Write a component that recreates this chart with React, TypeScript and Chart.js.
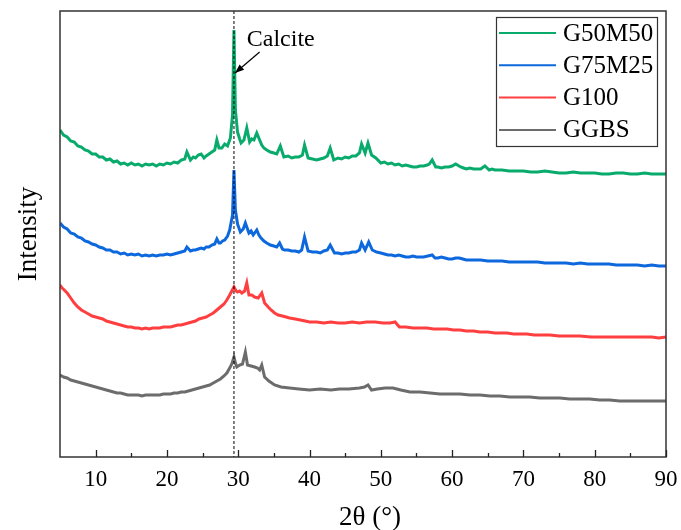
import React, { useEffect, useRef } from "react";
import { Chart, registerables } from "chart.js";

Chart.register(...registerables);

const seriesLabels = ["G50M50", "G75M25", "G100", "GGBS"];
const seriesColors = ["#08ab6c", "#0c68dc", "#ff3f3f", "#6c6c6c"];

const xTickLabels = [10, 20, 30, 40, 50, 60, 70, 80, 90];
const calcitePosition = 29.4;

const g50m50: [number, number][] = [
  [5, 327], [5.5, 322], [6, 320], [6.5, 316], [7, 315], [7.5, 311], [8, 310], [8.5, 307], [9, 306], [9.5, 303], [10, 303],
  [10.5, 300], [11, 300], [11.5, 297], [12, 298], [12.5, 295], [13, 296], [13.5, 293], [14, 294], [14.5, 292], [15, 294],
  [15.5, 292], [16, 293], [16.5, 291], [17, 293], [17.5, 292], [18, 293], [18.5, 291], [19, 293], [19.5, 292], [20, 294],
  [20.5, 293], [21, 295], [21.5, 294], [22, 297], [22.5, 298], [22.8, 305], [23.3, 297], [23.7, 300], [24, 299], [24.4, 302],
  [24.8, 303], [25.2, 299], [25.5, 301], [25.9, 303], [26.3, 305], [26.7, 307], [27, 317], [27.3, 309], [27.7, 309],
  [28.1, 313], [28.5, 311], [28.9, 319], [29.2, 342], [29.4, 427], [29.6, 347], [29.9, 325], [30.2, 318], [30.4, 314],
  [30.8, 317], [31.2, 329], [31.6, 315], [31.9, 318], [32.2, 317], [32.6, 324], [33, 317], [33.3, 312], [33.6, 309],
  [34, 307], [34.5, 305], [35, 304], [35.4, 303], [35.9, 311], [36.4, 300], [37, 301], [37.5, 299], [38, 300], [38.5, 300],
  [39, 302], [39.3, 312], [39.8, 299], [40.4, 298], [41, 297], [41.5, 298], [42, 299], [42.5, 301], [42.9, 309], [43.4, 297],
  [44, 299], [44.5, 298], [45, 300], [45.5, 299], [46, 301], [46.5, 301], [47, 304], [47.3, 313], [47.8, 304], [48.2, 314],
  [48.7, 302], [49.3, 299], [50, 294], [50.5, 295], [51, 293], [51.5, 294], [52, 292], [52.5, 293], [53, 291], [53.5, 292],
  [54, 291], [54.5, 290], [55, 290], [55.5, 291], [56, 291], [56.5, 292], [56.8, 293], [57.2, 297], [57.7, 290], [58, 290],
  [58.5, 289], [59, 290], [59.5, 290], [60, 291], [60.5, 293], [61.2, 290], [61.6, 289], [62, 288], [62.5, 289], [63, 288],
  [63.5, 288], [64, 288], [64.6, 291], [65.2, 287], [65.6, 288], [66, 287], [67, 287], [68, 286], [69, 286], [70, 286],
  [71, 285], [72, 285], [73, 286], [74, 285], [75, 284], [76, 284], [77, 285], [78, 284], [79, 284], [80, 284], [81, 283],
  [82, 283], [83, 284], [84, 284], [85, 283], [86, 283], [87, 284], [88, 283], [89, 283], [90, 283],
];

const g75m25: [number, number][] = [
  [5, 234], [5.5, 230], [6, 228], [6.5, 224], [7, 223], [7.5, 220], [8, 219], [8.5, 216], [9, 215], [9.5, 213], [10, 212],
  [10.5, 210], [11, 209], [11.5, 207], [12, 207], [12.5, 205], [13, 205], [13.5, 203], [14, 204], [14.5, 202], [15, 203],
  [15.5, 202], [16, 203], [16.5, 201], [17, 202], [17.5, 201], [18, 202], [18.5, 201], [19, 202], [19.5, 202], [20, 203],
  [20.5, 202], [21, 203], [21.5, 204], [22, 205], [22.5, 206], [22.8, 210], [23.3, 206], [23.7, 207], [24, 207],
  [24.4, 208], [24.8, 209], [25.2, 208], [25.5, 210], [25.9, 210], [26.3, 212], [26.7, 213], [27, 218], [27.3, 214],
  [27.5, 214], [27.8, 216], [28.1, 217], [28.5, 221], [28.8, 227], [29.2, 242], [29.4, 287], [29.6, 247], [29.9, 233],
  [30.3, 225], [30.7, 228], [31, 234], [31.5, 224], [31.8, 226], [32.1, 222], [32.6, 227], [32.9, 222], [33.2, 219],
  [33.6, 216], [34, 214], [34.5, 212], [35, 211], [35.4, 210], [35.8, 214], [36.2, 208], [36.5, 207], [37, 207],
  [37.5, 206], [38, 206], [38.5, 205], [38.9, 207], [39.3, 220], [39.8, 206], [40.4, 205], [41, 205], [41.5, 204],
  [42, 206], [42.5, 207], [42.9, 212], [43.5, 204], [44, 204], [44.5, 203], [45, 204], [45.5, 204], [46, 205], [46.5, 205],
  [47, 207], [47.3, 214], [47.8, 207], [48.3, 215], [48.8, 207], [49.4, 205], [50, 204], [50.5, 203], [51, 202], [51.5, 202],
  [52, 201], [52.5, 202], [53, 201], [53.5, 200], [54, 200], [54.5, 201], [55, 200], [55.5, 200], [56, 200], [56.6, 201],
  [57.2, 202], [57.6, 199], [58, 199], [58.5, 200], [59, 199], [59.5, 198], [60, 198], [60.5, 199], [61, 199], [61.5, 198],
  [62, 197], [63, 197], [64, 197], [65, 196], [66, 196], [67, 196], [68, 195], [69, 195], [70, 195], [71, 195], [72, 195],
  [73, 194], [74, 194], [75, 194], [76, 194], [77, 193], [78, 194], [79, 193], [80, 193], [81, 193], [82, 193], [83, 192],
  [84, 192], [85, 192], [86, 192], [87, 191], [88, 192], [89, 191], [90, 191],
];

const g100: [number, number][] = [
  [5, 172], [5.3, 169], [5.6, 167], [6, 164], [6.5, 159], [7, 154], [7.5, 150], [8, 147], [8.5, 145], [9, 143], [9.5, 141],
  [10, 140], [10.5, 139], [11, 138], [11.5, 136], [12, 135], [12.5, 134], [13, 133], [13.5, 132], [14, 131], [14.5, 130],
  [15, 130], [15.5, 129], [16, 129], [16.5, 128], [17, 129], [17.5, 128], [18, 129], [18.5, 129], [19, 129], [19.5, 130],
  [20, 130], [20.5, 130], [21, 131], [21.5, 132], [22, 132], [22.5, 133], [23, 134], [23.5, 135], [24, 136], [24.5, 138],
  [25, 139], [25.5, 140], [26, 142], [26.5, 144], [27, 147], [27.5, 150], [28, 153], [28.4, 157], [28.8, 162], [29.1, 166],
  [29.4, 170], [29.7, 166], [29.9, 165], [30.2, 166], [30.5, 164], [30.9, 166], [31.2, 174], [31.5, 162], [31.9, 162],
  [32.3, 160], [32.8, 159], [33.3, 164], [33.7, 154], [34.2, 150], [34.6, 147], [35.1, 144], [35.6, 142], [36.2, 141],
  [36.7, 140], [37.2, 139], [38, 138], [38.7, 137], [39.4, 136], [40, 135], [41, 135], [42, 134], [43, 135], [44, 134],
  [45, 134], [46, 135], [47, 134], [48, 135], [49.2, 135], [50.3, 134], [51.3, 134], [52, 135], [52.6, 130], [53.5, 130],
  [54.5, 129], [55.5, 129], [56.5, 129], [57.4, 128], [58.3, 128], [59.3, 128], [60.2, 127], [61.1, 127], [62, 126],
  [63, 126], [63.9, 125], [65, 125], [66, 124], [66.7, 124], [67.7, 124], [68.6, 123], [69.5, 123], [70.5, 123],
  [71.5, 122], [72.6, 122], [73.7, 122], [75, 121], [76.5, 121], [77.9, 121], [79.5, 120], [81, 120], [82.2, 120],
  [83.5, 120], [85, 120], [86.5, 120], [88, 120], [89, 119], [90, 120],
];

const ggbs: [number, number][] = [
  [5, 82], [5.5, 80], [6, 79], [6.5, 77], [7, 76], [7.5, 75], [8, 74], [8.5, 73], [9, 72], [9.5, 71], [10, 70], [10.5, 69],
  [11, 68], [11.5, 67], [12, 66], [12.5, 65], [13, 64], [13.5, 64], [14, 63], [14.5, 62], [15, 62], [15.5, 62], [16, 62],
  [16.5, 61], [17, 62], [17.5, 62], [18, 62], [18.5, 62], [19, 62], [19.5, 63], [20, 63], [20.5, 63], [21, 64], [21.5, 64],
  [22, 65], [22.5, 65], [23, 66], [23.5, 67], [24, 68], [24.5, 69], [25, 70], [25.5, 71], [26, 72], [26.5, 74], [27, 76],
  [27.5, 78], [28, 81], [28.4, 84], [28.8, 89], [29.1, 93], [29.4, 100], [29.6, 94], [29.8, 90], [30.2, 92], [30.6, 93],
  [31, 105], [31.3, 92], [31.8, 91], [32.3, 90], [32.7, 89], [33, 87], [33.3, 92], [33.7, 80], [34.3, 76], [35.1, 72],
  [36, 70], [37.2, 69], [38.5, 68], [40, 67], [41.5, 68], [43, 67], [44.2, 68], [45.5, 68], [47, 69], [47.7, 70], [48.2, 72],
  [48.7, 67], [49.5, 68], [50.6, 69], [51.7, 69], [52.8, 67], [54.1, 65], [55.5, 65], [56.9, 64], [58.3, 63], [59.7, 63],
  [61.1, 63], [62.5, 62], [63.9, 62], [65.3, 61], [66.7, 61], [68.1, 60], [69.5, 60], [70.9, 60], [72.3, 59], [73.7, 59],
  [75.1, 59], [76.5, 58], [77.9, 58], [79.3, 58], [80.7, 57], [82.1, 57], [83.5, 56], [84.9, 56], [86.3, 56], [87.7, 56],
  [89, 56], [90, 56],
];

const seriesData = [g50m50, g75m25, g100, ggbs];

const SERIF = '"Liberation Serif", "Times New Roman", serif';

const decorPlugin = {
  id: "decor",
  afterDraw(chart: any) {
    const { ctx, chartArea } = chart;
    const xs = chart.scales.x;
    const ys = chart.scales.y;
    const { left, right, top, bottom } = chartArea;
    ctx.save();

    // dashed calcite line
    const cx = xs.getPixelForValue(calcitePosition);
    ctx.strokeStyle = "#000";
    ctx.lineWidth = 1;
    ctx.setLineDash([3, 2]);
    ctx.beginPath();
    ctx.moveTo(cx, top);
    ctx.lineTo(cx, bottom);
    ctx.stroke();
    ctx.setLineDash([]);

    // frame
    ctx.strokeStyle = "#333";
    ctx.lineWidth = 1.5;
    ctx.strokeRect(left, top, right - left, bottom - top);

    // inward ticks
    ctx.lineWidth = 1.3;
    ctx.strokeStyle = "#222";
    for (let v = 10; v <= 90; v += 5) {
      const px = Math.round(xs.getPixelForValue(v)) + 0.5;
      const len = v % 10 === 0 ? 7 : 4;
      ctx.beginPath();
      ctx.moveTo(px, bottom);
      ctx.lineTo(px, bottom - len);
      ctx.stroke();
    }

    // Calcite annotation
    ctx.fillStyle = "#000";
    ctx.font = `24px ${SERIF}`;
    ctx.textAlign = "left";
    ctx.textBaseline = "alphabetic";
    ctx.fillText("Calcite", xs.getPixelForValue(31.2), ys.getPixelForValue(411));
    const ax0 = xs.getPixelForValue(33.0);
    const ay0 = ys.getPixelForValue(405);
    const ax1 = xs.getPixelForValue(29.55);
    const ay1 = ys.getPixelForValue(384);
    ctx.strokeStyle = "#000";
    ctx.lineWidth = 1.2;
    ctx.beginPath();
    ctx.moveTo(ax0, ay0);
    ctx.lineTo(ax1, ay1);
    ctx.stroke();
    const ang = Math.atan2(ay1 - ay0, ax1 - ax0);
    const hl = 9;
    const hw = 3.5;
    ctx.beginPath();
    ctx.moveTo(ax1, ay1);
    ctx.lineTo(
      ax1 - hl * Math.cos(ang) + hw * Math.sin(ang),
      ay1 - hl * Math.sin(ang) - hw * Math.cos(ang)
    );
    ctx.lineTo(
      ax1 - hl * Math.cos(ang) - hw * Math.sin(ang),
      ay1 - hl * Math.sin(ang) + hw * Math.cos(ang)
    );
    ctx.closePath();
    ctx.fill();

    // legend
    const bx = right - 170;
    const by = top + 6;
    const bw = 161;
    const bh = 129;
    ctx.strokeStyle = "#333";
    ctx.lineWidth = 1.2;
    ctx.strokeRect(bx + 0.5, by + 0.5, bw, bh);
    ctx.font = `25px ${SERIF}`;
    ctx.textBaseline = "middle";
    chart.data.datasets.forEach((ds: any, i: number) => {
      const yy = by + 16 + i * 32.3;
      ctx.strokeStyle = ds.borderColor;
      ctx.lineWidth = 2;
      ctx.beginPath();
      ctx.moveTo(bx + 3, yy);
      ctx.lineTo(bx + 60, yy);
      ctx.stroke();
      ctx.fillStyle = "#000";
      ctx.fillText(ds.label, bx + 67, yy + 1);
    });

    // axis titles
    ctx.fillStyle = "#000";
    ctx.font = `27px ${SERIF}`;
    ctx.textAlign = "center";
    ctx.textBaseline = "alphabetic";
    ctx.fillText("2θ (°)", (left + right) / 2 + 7, 525);
    ctx.translate(36, (top + bottom) / 2);
    ctx.rotate(-Math.PI / 2);
    ctx.fillText("Intensity", 0, 0);
    ctx.restore();
  },
};

export default function App() {
  const ref = useRef<HTMLCanvasElement>(null);
  useEffect(() => {
    if (!ref.current) return;
    const chart = new Chart(ref.current, {
      type: "line",
      data: {
        datasets: seriesLabels.map((label, i) => ({
          label,
          data: seriesData[i].map(([x, y]) => ({ x, y })),
          borderColor: seriesColors[i],
          backgroundColor: seriesColors[i],
          borderWidth: 3,
          pointRadius: 0,
          tension: 0,
        })),
      },
      options: {
        animation: false,
        responsive: true,
        maintainAspectRatio: false,
        layout: { padding: { top: 11, right: 15, left: 0, bottom: 0 } },
        plugins: { legend: { display: false }, tooltip: { enabled: false } },
        scales: {
          x: {
            type: "linear",
            min: 5,
            max: 90,
            grid: { display: false, drawTicks: false },
            border: { display: false },
            ticks: {
              stepSize: 5,
              autoSkip: false,
              maxRotation: 0,
              padding: 9,
              color: "#000",
              font: { family: SERIF, size: 23 },
              callback: (v: any) => (xTickLabels.includes(Number(v)) ? String(v) : ""),
            },
            afterFit: (s: any) => {
              s.height = 73;
              s.paddingLeft = 0;
              s.paddingRight = 0;
            },
          },
          y: {
            min: 0,
            max: 446,
            grid: { display: false, drawTicks: false },
            border: { display: false },
            ticks: { display: false },
            afterFit: (s: any) => {
              s.width = 60;
              s.paddingTop = 0;
              s.paddingBottom = 0;
            },
          },
        },
      },
      plugins: [decorPlugin],
    });
    return () => chart.destroy();
  }, []);
  return (
    <div style={{ position: "fixed", left: 0, top: 0, width: 681, height: 530, background: "#fff" }}>
      <canvas ref={ref} />
    </div>
  );
}
